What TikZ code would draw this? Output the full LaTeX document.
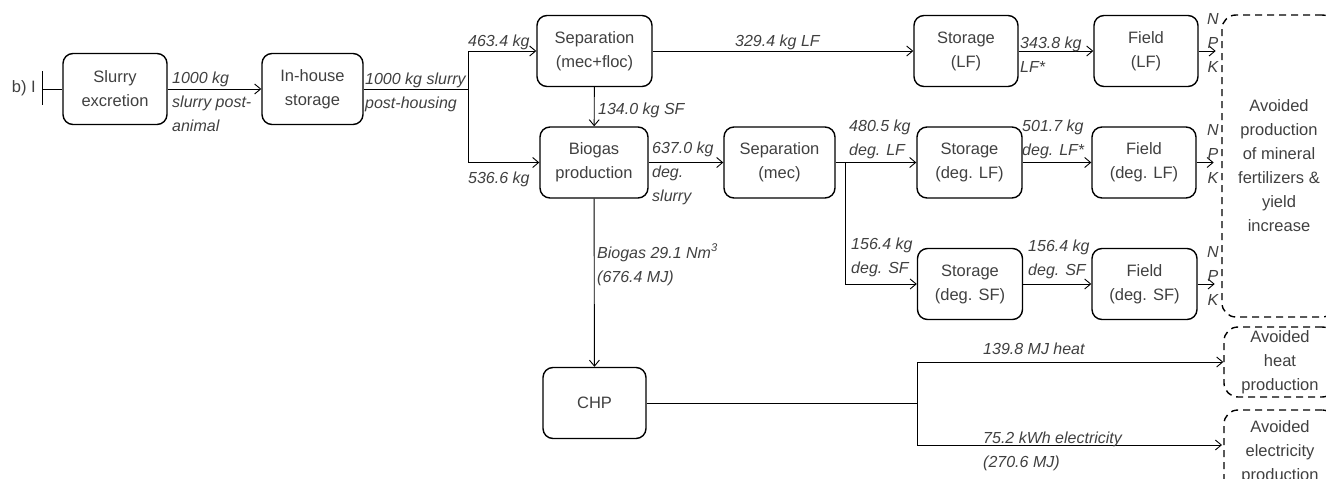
\documentclass[tikz,border=0pt]{standalone}
\usepackage{fontspec}
\setmainfont{Liberation Sans}
\usetikzlibrary{arrows.meta,positioning,calc}
\definecolor{txtgray}{RGB}{64,64,64}
\newcommand{\boxfont}{\fontsize{16.5}{24}\selectfont}
\newcommand{\flowfont}{\fontsize{16}{24}\selectfont\itshape}
\tikzset{>={Straight Barb[length=6pt,width=10pt]}}
\tikzset{
  process/.style={draw, rounded corners=10pt, line width=1.4pt, align=center,
    minimum height=71pt, text=txtgray, font=\boxfont, inner sep=2pt},
  avoided/.style={draw, dash pattern=on 7pt off 5pt, rounded corners=14pt,
    line width=1.4pt, align=center, text=txtgray, font=\boxfont, inner sep=2pt},
  flow/.style={->, line width=0.9pt},
  pipe/.style={line width=0.9pt},
  % base of a label = baseline of its last line
  amount/.style={font=\flowfont, text=txtgray, align=left, inner sep=0pt,
    anchor=base west},
}

\begin{document}
\begin{tikzpicture}[x=1pt, y=-1pt]
  \useasboundingbox (0,0) rectangle (1326,479);
  % processes
  \node[process, minimum width=104pt] (slurry) at (115,89) {Slurry\\excretion};
  \node[process, minimum width=101pt] (inhouse) at (312.5,89) {In-house\\storage};
  \node[process, minimum width=115pt] (sepA) at (594.5,51) {Separation\\(mec+floc)};
  \node[process, minimum width=108pt] (biogas) at (594,162.5) {Biogas\\production};
  \node[process, minimum width=111pt] (sepB) at (779.5,162.5) {Separation\\(mec)};
  \node[process, minimum width=104pt] (stoLF) at (966,51) {Storage\\(LF)};
  \node[process, minimum width=104pt] (fieldLF) at (1146,51) {Field\\(LF)};
  \node[process, minimum width=105pt] (stoDLF) at (969.5,162.5) {Storage\\(deg. LF)};
  \node[process, minimum width=104pt] (fieldDLF) at (1144,162.5) {Field\\(deg. LF)};
  \node[process, minimum width=105pt] (stoDSF) at (970,284) {Storage\\(deg. SF)};
  \node[process, minimum width=105pt] (fieldDSF) at (1144.5,284) {Field\\(deg. SF)};
  \node[process, minimum width=103pt] (chp) at (594.5,403) {CHP};
  % avoided products
  \node[avoided, minimum width=114pt, minimum height=302pt] (avFert) at (1279,166)
    {Avoided\\production\\of mineral\\fertilizers \&\\yield\\increase};
  \node[avoided, minimum width=112pt, minimum height=70pt] (avHeat) at (1280,362)
    {Avoided\\heat\\production};
  \node[avoided, minimum width=112pt, minimum height=84pt] (avElec) at (1280,452)
    {Avoided\\electricity\\production};
  % start of the chain
  \coordinate (start) at (42,89);
  \node[font=\boxfont, text=txtgray, anchor=east, inner sep=0pt] (case) at (36,88) {b) I};
  \draw[pipe] (start) ++(0,-18) -- ++(0,34);
  \draw[pipe] (start) -- (slurry);
  % flows
  \coordinate (splitA) at (468,89);
  \coordinate (splitB) at (845,162.5);
  \coordinate (splitC) at (917,403);
  \coordinate (elecIn) at (1222,445);
  \draw[flow] (slurry) -- (inhouse);
  \draw[pipe] (inhouse) -- (splitA);
  \draw[flow] (splitA) |- (sepA);
  \draw[flow] (splitA) |- (biogas);
  \draw[flow] (sepA) -- (stoLF);
  \draw[flow] (sepA) -- (biogas);
  \draw[flow] (biogas) -- (sepB);
  \draw[flow] (sepB) -- (stoDLF);
  \draw[flow] (splitB) |- (stoDSF);
  \draw[flow] (stoLF) -- (fieldLF);
  \draw[flow] (stoDLF) -- (fieldDLF);
  \draw[flow] (stoDSF) -- (fieldDSF);
  \draw[flow] (biogas) -- (chp);
  \draw[pipe] (chp) -- (splitC);
  \draw[flow] (splitC) |- (avHeat);
  \draw[flow] (splitC) |- (elecIn);
  \foreach \f in {fieldLF, fieldDLF, fieldDSF}
    \draw[flow] (\f.east) -- ++(17,0);
  \foreach \r/\y in {A/51, B/162.5, C/284}
    \node[font=\flowfont, text=txtgray, align=center, inner sep=0pt, anchor=base]
      (npk\r) at (1213,\y+21) {N\\P\\K};
  % amounts
  \node[amount] (m1) at (172,131) {1000 kg\\slurry post-\\animal};
  \node[amount] (m2) at (365,108) {1000 kg slurry\\post-housing};
  \node[amount] (m3) at (468,46) {463.4 kg};
  \node[amount] (m4) at (468,183) {536.6 kg};
  \node[amount] (m5) at (735,46) {329.4 kg LF};
  \node[amount] (m6) at (598,114) {134.0 kg SF};
  \node[amount] (m7) at (652,201) {637.0 kg\\deg.\\slurry};
  \node[amount] (m8) at (849,155) {480.5 kg\\deg. LF};
  \node[amount] (m9) at (851,273) {156.4 kg\\deg. SF};
  \node[amount] (m10) at (1020,72) {343.8 kg\\LF*};
  \node[amount] (m11) at (1022,155) {501.7 kg\\deg. LF*};
  \node[amount] (m12) at (1028,275) {156.4 kg\\deg. SF};
  \node[amount] (m13) at (597,282) {Biogas 29.1 Nm\textsuperscript{3}\\(676.4 MJ)};
  \node[amount] (m14) at (983,354) {139.8 MJ heat};
  \node[amount] (m15) at (983,467) {75.2 kWh electricity\\(270.6 MJ)};
\end{tikzpicture}
\end{document}
